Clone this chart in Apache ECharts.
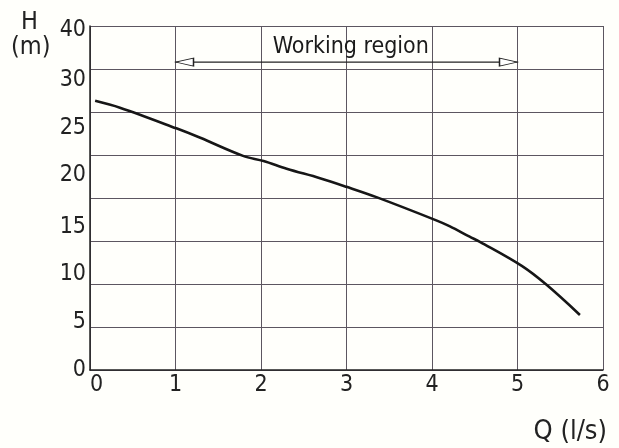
<!DOCTYPE html>
<html>
<head>
<meta charset="utf-8">
<script src="https://cdn.jsdelivr.net/npm/echarts@6/dist/echarts.min.js"></script>
<style>
  html, body { margin: 0; padding: 0; background: #fffffb; }
  #chart { width: 619px; height: 448px; }
</style>
</head>
<body>
<div id="chart"></div>
<script>
// pump curve: flow Q (l/s) and head H (m)
const flow = [0.06, 0.35, 1.01, 1.29, 1.79, 2.03, 2.30, 2.69, 3.00, 3.35, 4.05, 4.21, 4.44, 4.56, 5.05, 5.34, 5.73];
const head = [31.3, 30.5, 28.1, 27.0, 24.9, 24.3, 23.4, 22.3, 21.3, 20.1, 17.4, 16.7, 15.5, 14.9, 12.1, 9.9, 6.4];

// working region arrow (Q from / to, at H level) and its caption
const workFrom = 1;
const workTo = 5;
const workLevel = 35.8;
const workCaption = 'Working region';
const workCaptionAt = [3.05, 37.6];

// x tick labels are on the grid; the printed H labels sit off the grid lines
const qTicks = [0, 1, 2, 3, 4, 5, 6];
const hLabels = ['0', '5', '10', '15', '20', '25', '30', '40'];
const hLabelAt = [0, 5.6, 11.2, 16.6, 22.7, 28.1, 33.7, 39.5];

const font = "'Liberation Sans Narrow', 'DejaVu Sans Condensed', sans-serif";
const gridColor = '#5c5660';

const chart = echarts.init(document.getElementById('chart'));

chart.setOption({
  backgroundColor: '#fffffb',
  animation: false,
  grid: { left: 90, right: 16, top: 26, bottom: 78 },
  xAxis: {
    type: 'value',
    min: qTicks[0],
    max: qTicks[qTicks.length - 1],
    interval: 1,
    axisLine: { lineStyle: { color: '#222', width: 1.5 } },
    axisTick: { show: false },
    splitLine: { lineStyle: { color: gridColor, width: 1 } },
    axisLabel: {
      color: '#222', fontFamily: font, fontSize: 23, margin: 4,
      alignMinLabel: 'left'
    }
  },
  yAxis: [
    {
      type: 'value',
      min: 0,
      max: 40,
      interval: 5,
      axisLine: { show: true, lineStyle: { color: '#222', width: 1.5 } },
      axisTick: { show: false },
      axisLabel: { show: false },
      splitLine: { lineStyle: { color: gridColor, width: 1 } }
    },
    {
      type: 'value',
      position: 'left',
      min: 0,
      max: 40,
      axisLine: { show: false },
      axisTick: { show: false },
      splitLine: { show: false },
      axisLabel: {
        customValues: hLabelAt,
        formatter: v => hLabels[hLabelAt.indexOf(v)],
        color: '#222', fontFamily: font, fontSize: 23, margin: 4
      }
    }
  ],
  graphic: [
    {
      type: 'text', left: 21, top: 10,
      style: { text: 'H', fontFamily: font, fontSize: 25, fill: '#222' }
    },
    {
      type: 'text', left: 11, top: 35,
      style: { text: '(m)', fontFamily: font, fontSize: 25, fill: '#222' }
    },
    {
      type: 'text', right: 12, top: 418,
      style: { text: 'Q (l/s)', fontFamily: font, fontSize: 27, fill: '#222' }
    }
  ],
  series: [
    {
      type: 'line',
      data: flow.map((q, i) => [q, head[i]]),
      smooth: 0.35,
      showSymbol: false,
      lineStyle: { color: '#161616', width: 2.6 }
    },
    {
      type: 'line',
      data: [
        { value: [workFrom, workLevel], symbol: 'path://M0,4L18,0L18,8Z', symbolOffset: [9, 0] },
        { value: [workTo, workLevel], symbol: 'path://M18,4L0,0L0,8Z', symbolOffset: [-9, 0] }
      ],
      symbolSize: [18, 8],
      lineStyle: { color: '#222', width: 1.1 },
      itemStyle: { color: '#fff', borderColor: '#222', borderWidth: 1 }
    },
    {
      type: 'scatter',
      silent: true,
      data: [workCaptionAt],
      symbolSize: 1,
      itemStyle: { color: 'rgba(0,0,0,0)' },
      label: {
        show: true, position: 'inside', formatter: workCaption, opacity: 1,
        fontFamily: font, fontSize: 23, color: '#1a1a1a'
      }
    }
  ]
});
</script>
</body>
</html>
